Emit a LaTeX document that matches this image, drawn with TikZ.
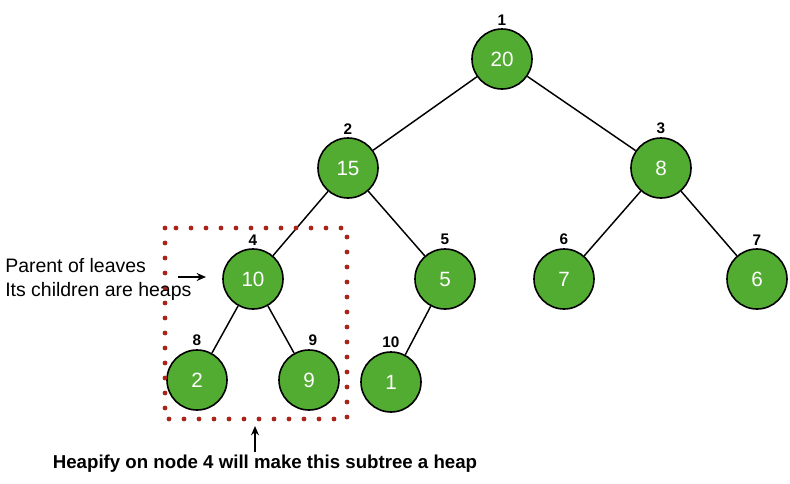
\documentclass[tikz,border=0pt]{standalone}
\usepackage{fontspec}
\setmainfont{Liberation Sans}
\usetikzlibrary{positioning,arrows.meta}
\definecolor{heapgreen}{RGB}{82,172,50}
\definecolor{boxred}{RGB}{170,35,25}

\begin{document}
\begin{tikzpicture}[x=0.75pt,y=-0.75pt,
    heapnode/.style={circle,draw=black,line width=1.2pt,fill=heapgreen,
      minimum size=45pt,inner sep=0pt,text=white,font=\fontsize{15.5}{18}\selectfont},
    idx/.style={font=\bfseries\fontsize{11.5}{13}\selectfont,inner sep=1pt},
    every label/.style={idx},
    label distance=1.2pt,
    pointer/.style={-{Stealth[length=7pt,width=6pt]},line width=1.1pt}]
    \useasboundingbox (0,0) rectangle (790,483);

    % tree nodes, named after heap index
    \node[heapnode,label=above:1] (n1) at (502,59) {20};
    \node[heapnode,label=above:2] (n2) at (348,168) {15};
    \node[heapnode,label=above:3] (n3) at (661,168) {8};
    \node[heapnode,label=above:4] (n4) at (253,279) {10};
    \node[heapnode,label=above:5] (n5) at (445,279) {5};
    \node[heapnode,label=above:6] (n6) at (564,279) {7};
    \node[heapnode,label=above:7] (n7) at (757,279) {6};
    \node[heapnode,label=above:8] (n8) at (197,380) {2};
    \node[heapnode,label={[xshift=3pt]above:9}] (n9) at (309,380) {9};
    \node[heapnode,label=above:10] (n10) at (391,382) {1};

    \draw[line width=1.1pt]
    (n1) edge (n2)
    (n1) edge (n3)
    (n2) edge (n4)
    (n2) edge (n5)
    (n3) edge (n6)
    (n3) edge (n7)
    (n4) edge (n8)
    (n4) edge (n9)
    (n5) edge (n10);

    % dotted subtree box
    \draw[boxred,line width=3.6pt,line cap=round,dash pattern=on 0pt off 11.25pt]
    (165,228) rectangle (347,419);

    % side note
    \node[anchor=west,align=left,inner sep=0pt,font=\fontsize{14.6}{18}\selectfont]
    (note) at (5,279) {Parent of leaves\\Its children are heaps};
    \coordinate (notetip) at (206,277);
    \draw[pointer] (178,277) -- (notetip);

    % bottom caption
    \node[inner sep=0pt,font=\bfseries\fontsize{14}{17}\selectfont]
    (caption) at (265,464) {Heapify on node 4 will make this subtree a heap};
    \coordinate (captip) at (255,426);
    \draw[pointer] (255,452) -- (captip);
\end{tikzpicture}
\end{document}
